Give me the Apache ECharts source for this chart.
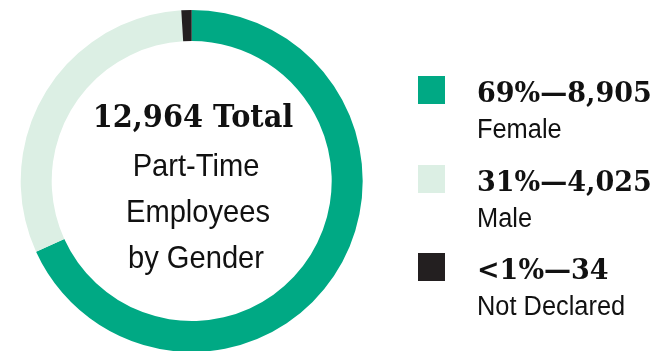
<!DOCTYPE html>
<html>
<head>
<meta charset="utf-8">
<script src="https://cdn.jsdelivr.net/npm/echarts@6/dist/echarts.min.js"></script>
<style>
  html, body { margin: 0; padding: 0; background: #ffffff; }
  #chart { width: 657px; height: 351px; }
</style>
</head>
<body>
<div id="chart"></div>
<script>
// Part-time employees by gender
const categories = ['Female', 'Male', 'Not Declared'];
const counts = [8905, 4025, 34];
const shareLabels = ['69%', '31%', '<1%'];
const colors = ['#00a984', '#dcefe4', '#231f20'];

const total = counts.reduce((a, b) => a + b, 0);
const fmt = n => n.toLocaleString('en-US');

const serif = '"DejaVu Serif", "Liberation Serif", serif';
const sans = '"Liberation Sans", Arial, sans-serif';

const chart = echarts.init(document.getElementById('chart'), null, { renderer: 'canvas' });

// Legend rows: swatch, bold share/count line, category name below
const rowTops = [76, 165, 253];
const legendItems = categories.map((name, i) => ({
  type: 'group',
  left: 418,
  top: rowTops[i],
  children: [
    { type: 'rect', shape: { x: 0, y: 0, width: 27, height: 28 }, style: { fill: colors[i] } },
    {
      type: 'text', x: 59, y: 18.5,
      style: {
        text: shareLabels[i] + '\u2014' + fmt(counts[i]),
        font: 'bold 27px ' + serif, fill: '#111111', verticalAlign: 'middle'
      }
    },
    {
      type: 'text', x: 59, y: 55, scaleX: 0.94,
      style: { text: name, font: '27px ' + sans, fill: '#111111', verticalAlign: 'middle' }
    }
  ]
}));

// Centre caption
const centreX = 193;
const caption = [
  { type: 'text', x: centreX, y: 119, scaleX: 0.9,
    style: { text: fmt(total) + ' Total', font: 'bold 32px ' + serif, fill: '#111111', align: 'center', verticalAlign: 'middle' } },
  { type: 'text', x: centreX + 3, y: 167, scaleX: 0.91,
    style: { text: 'Part-Time', font: '32px ' + sans, fill: '#111111', align: 'center', verticalAlign: 'middle' } },
  { type: 'text', x: centreX + 5, y: 213, scaleX: 0.91,
    style: { text: 'Employees', font: '32px ' + sans, fill: '#111111', align: 'center', verticalAlign: 'middle' } },
  { type: 'text', x: centreX + 3, y: 259, scaleX: 0.91,
    style: { text: 'by Gender', font: '32px ' + sans, fill: '#111111', align: 'center', verticalAlign: 'middle' } }
];

chart.setOption({
  animation: false,
  backgroundColor: '#ffffff',
  series: [{
    type: 'pie',
    center: [191.7, 181],
    radius: [140, 171],
    startAngle: 90,
    clockwise: true,
    minAngle: 3.5,
    avoidLabelOverlap: false,
    label: { show: false },
    labelLine: { show: false },
    emphasis: { disabled: true },
    itemStyle: { borderWidth: 0 },
    data: categories.map((name, i) => ({
      name, value: counts[i], itemStyle: { color: colors[i] }
    }))
  }],
  graphic: legendItems.concat(caption)
});
</script>
</body>
</html>
